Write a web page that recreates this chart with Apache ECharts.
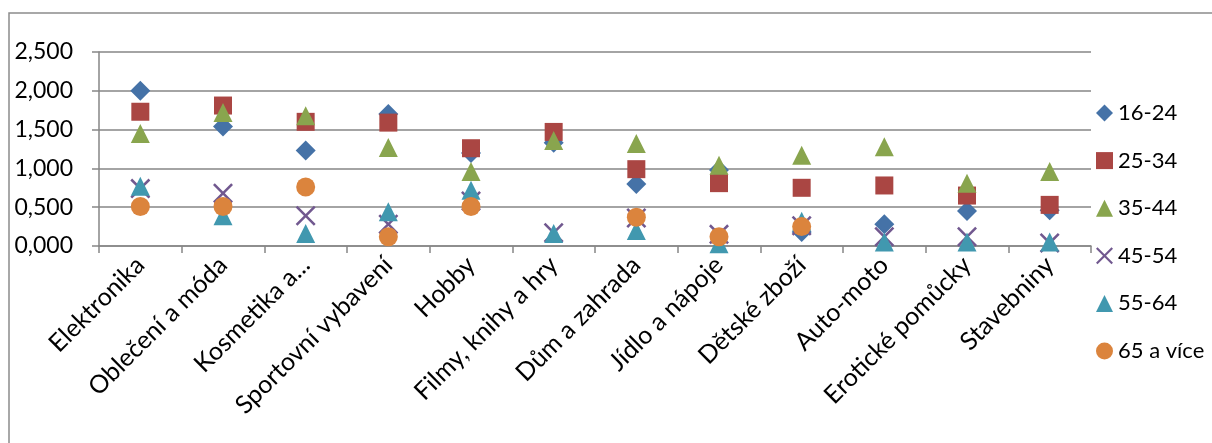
<!DOCTYPE html>
<html>
<head>
<meta charset="utf-8">
<script src="https://cdn.jsdelivr.net/npm/echarts@6/dist/echarts.min.js"></script>
<style>
html,body{margin:0;padding:0;background:#fff;}
#chart{width:1212px;height:443px;}
</style>
</head>
<body>
<div id="chart"></div>
<script>
const categories = ['Elektronika','Oblečení a móda','Kosmetika a...','Sportovní vybavení','Hobby','Filmy, knihy a hry','Dům a zahrada','Jídlo a nápoje','Dětské zboží','Auto-moto','Erotické pomůcky','Stavebniny'];
const seriesNames = ['16-24','25-34','35-44','45-54','55-64','65 a více'];
const v16_24 = [2.00, 1.54, 1.23, 1.70, 1.20, 1.33, 0.80, 0.98, 0.18, 0.28, 0.45, 0.46];
const v25_34 = [1.73, 1.81, 1.60, 1.59, 1.26, 1.47, 0.99, 0.81, 0.75, 0.78, 0.65, 0.53];
const v35_44 = [1.45, 1.72, 1.68, 1.27, 0.96, 1.36, 1.32, 1.04, 1.17, 1.28, 0.81, 0.96];
const v45_54 = [0.74, 0.68, 0.39, 0.28, 0.58, 0.17, 0.36, 0.15, 0.26, 0.12, 0.12, 0.04];
const v55_64 = [0.77, 0.39, 0.16, 0.44, 0.72, 0.16, 0.20, 0.03, 0.32, 0.05, 0.05, 0.05];
const v65 = [0.51, 0.51, 0.76, 0.12, 0.51, null, 0.37, 0.12, 0.25, null, null, null];
const yTicks = [0, 0.5, 1, 1.5, 2, 2.5];

const values = [v16_24, v25_34, v35_44, v45_54, v55_64, v65];
const colors = ['#4572A7','#AA4643','#89A54E','#71588F','#4198AF','#DB843D'];
const X_PATH = 'path://M0,0.9 L0.9,0 L5,4.1 L9.1,0 L10,0.9 L5.9,5 L10,9.1 L9.1,10 L5,5.9 L0.9,10 L0,9.1 L4.1,5 Z';
const symbols = ['diamond','rect','triangle',X_PATH,'triangle','circle'];
const sizes = [20, 18, 19, 20, 19, 19];
const FONT = 'Lato, "Open Sans", sans-serif';

const chart = echarts.init(document.getElementById('chart'), null, {renderer:'canvas'});
chart.setOption({
  animation: false,
  backgroundColor: '#fff',
  textStyle: {fontFamily: FONT},
  graphic: [{
    type: 'rect', silent: true,
    shape: {x: 9, y: 13, width: 1400, height: 600},
    style: {fill: 'none', stroke: '#8c8c8c', lineWidth: 1.5}
  }],
  grid: {left: 99, right: 121, top: 52, bottom: 197, containLabel: false},
  xAxis: {
    type: 'category',
    data: categories,
    boundaryGap: true,
    axisLine: {lineStyle: {color: '#868686', width: 1.5}},
    axisTick: {show: true, length: 7, lineStyle: {color: '#868686', width: 1.5}},
    axisLabel: {rotate: 45, margin: 15, interval: 0, color: '#000', fontSize: 25, fontFamily: FONT}
  },
  yAxis: {
    type: 'value',
    min: yTicks[0], max: yTicks[yTicks.length-1], interval: 0.5,
    axisLine: {show: true, lineStyle: {color: '#868686', width: 1.5}},
    axisTick: {show: true, length: 7, lineStyle: {color: '#868686', width: 1.5}},
    splitLine: {show: true, lineStyle: {color: '#868686', width: 1.5}},
    axisLabel: {margin: 26, color: '#000', fontSize: 23, fontFamily: FONT,
      formatter: v => v.toFixed(3).replace('.', ',')}
  },
  legend: {
    orient: 'vertical',
    left: 1091, top: 96,
    itemWidth: 17, itemHeight: 17, itemGap: 23.6,
    textStyle: {color: '#000', fontSize: 22, fontFamily: FONT, lineHeight: 24},
    data: seriesNames.map((n, i) => ({name: n, icon: symbols[i]}))
  },
  series: seriesNames.map((n, i) => ({
    name: n,
    type: 'scatter',
    symbol: symbols[i],
    symbolSize: sizes[i],
    itemStyle: {color: colors[i], opacity: 1},
    data: values[i]
  }))
});
</script>
</body>
</html>
